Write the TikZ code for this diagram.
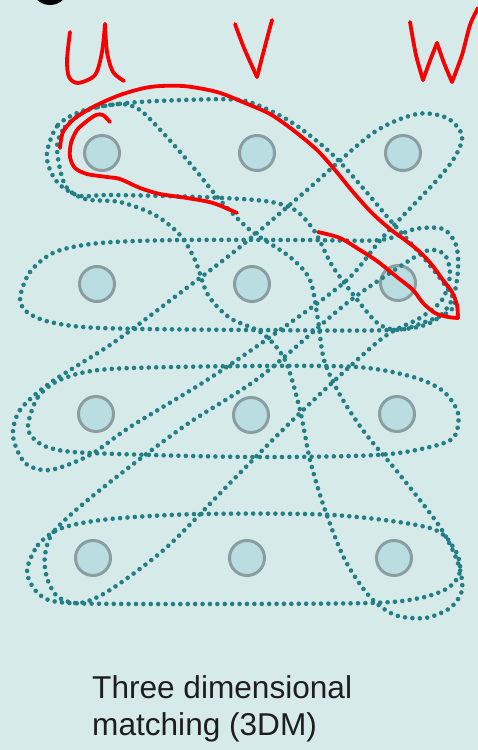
\documentclass[tikz,border=0pt]{standalone}
\usepackage{fontspec}
\setmainfont{Liberation Sans}
\definecolor{bgc}{HTML}{D6EAEA}
\definecolor{dotc}{HTML}{237E85}
\definecolor{nodefill}{HTML}{B9DDE1}
\definecolor{nodeline}{HTML}{8A9EA2}
\definecolor{ink}{HTML}{F80000}
\definecolor{txt}{HTML}{1E1E1E}
\begin{document}
\begin{tikzpicture}[x=1pt,y=-1pt,
  vert/.style={circle,minimum size=35pt,inner sep=0pt,fill=nodefill,draw=nodeline,line width=3pt},
  hedge/.style={draw=dotc,line width=4.6pt,line cap=round,dash pattern=on 0pt off 7.4pt},
  pen/.style={draw=ink,line width=3.8pt,line cap=round,line join=round},
  lbl/.style={font=\fontsize{31.6}{37}\selectfont,text=txt,inner sep=0pt,anchor=base west}]
\useasboundingbox (0,0) rectangle (478,750);
\clip (0,0) rectangle (478,750);
\fill[bgc] (0,0) rectangle (478,750);
% partial black bullet at top-left
\fill[black] (50,-14) circle (19);

% vertices
\node[vert] (u1) at (102,153) {};
\node[vert] (v1) at (257,153) {};
\node[vert] (w1) at (403,153) {};
\node[vert] (u2) at (97,284) {};
\node[vert] (v2) at (252,284) {};
\node[vert] (w2) at (398,283) {};
\node[vert] (u3) at (96,414) {};
\node[vert] (v3) at (251,415) {};
\node[vert] (w3) at (397,414) {};
\node[vert] (u4) at (93,558) {};
\node[vert] (v4) at (247,558) {};
\node[vert] (w4) at (394,558) {};

% triples (dotted loops)
% row 2
\draw[hedge] plot[smooth cycle] coordinates {(20,298) (30,272) (55,252) (100,243) (180,240) (300,240) (380,240) (415,229) (443,229) (456,245) (458,270) (452,300) (432,322) (390,330) (250,330) (100,328) (50,322) (27,312)};
% row 3
\draw[hedge] plot[smooth cycle] coordinates {(28,425) (38,397) (62,379) (110,369) (250,366) (357,367) (413,377) (443,391) (458,413) (454,437) (430,447) (377,455) (250,457) (90,453) (50,448) (33,438)};
% row 4
\draw[hedge] plot[smooth cycle] coordinates {(27,572) (38,545) (62,528) (110,519) (200,514) (333,515) (430,528) (455,550) (460,572) (448,588) (420,598) (370,603) (200,604) (70,603) (40,595)};
% U3 V2 W1
\draw[hedge] plot[smooth cycle] coordinates {(13,436) (20,410) (50,383) (113,343) (180,293) (240,247) (307,190) (373,133) (417,114) (447,118) (462,135) (456,155) (437,180) (383,237) (347,280) (280,330) (207,380) (130,427) (90,455) (50,470) (25,463)};
% U1 V1 W2
\draw[hedge] plot[smooth cycle] coordinates {(47,152) (58,125) (85,110) (127,103) (183,100) (240,100) (273,112) (300,128) (333,155) (363,188) (390,220) (423,257) (445,285) (455,303) (447,313) (425,322) (400,330) (380,325) (363,307) (333,267) (315,232) (295,210) (265,201) (200,197) (110,195) (80,196) (60,185) (50,170)};
% U1 V2 W4
\draw[hedge] plot[smooth cycle] coordinates {(57,148) (65,127) (88,110) (120,104) (140,110) (165,135) (193,167) (220,200) (250,230) (290,257) (310,280) (318,320) (324,360) (340,395) (365,433) (400,475) (440,527) (458,563) (462,590) (450,608) (425,618) (395,615) (370,597) (345,560) (325,510) (310,460) (300,410) (285,360) (262,333) (230,318) (208,295) (195,260) (180,235) (155,215) (120,202) (85,199) (65,185)};
% U4 V3 W2
\draw[hedge] plot[smooth cycle] coordinates {(45,555) (55,530) (100,490) (183,427) (260,377) (347,303) (410,260) (430,250) (445,255) (450,275) (442,300) (420,318) (380,340) (300,413) (233,480) (167,547) (110,590) (80,603) (58,597) (47,578)};

% handwritten red annotations
\draw[pen] plot[smooth] coordinates {(70,32) (67,60) (69,77) (78,83) (95,75) (102,52) (105,24)};
\draw[pen] plot[smooth] coordinates {(105,24) (107,52) (113,72) (124,81)};
\draw[pen] plot[smooth] coordinates {(235,24) (244,48) (257,77)};
\draw[pen] plot[smooth] coordinates {(257,77) (264,50) (272,20)};
\draw[pen] plot[smooth] coordinates {(410,22) (416,55) (423,80)};
\draw[pen] plot[smooth] coordinates {(423,80) (431,58) (437,43)};
\draw[pen] plot[smooth] coordinates {(437,43) (444,63) (452,82)};
\draw[pen] plot[smooth] coordinates {(452,82) (462,55) (470,25) (478,8)};
% loop highlighting the chosen triple
\draw[pen] plot[smooth] coordinates {(318,232) (340,238) (360,250) (377,261) (397,277) (413,290) (423,303) (435,313) (448,317) (458,318)};
\draw[pen] plot[smooth] coordinates {(458,318) (457,305) (452,292) (443,280) (432,265) (420,252) (405,240) (390,229) (372,213) (353,192) (335,170) (317,150) (293,130) (270,114) (245,103) (217,92) (183,86) (150,87) (120,95) (93,107) (74,119) (63,132) (60,148)};
\draw[pen] plot[smooth] coordinates {(110,122) (103,115) (96,115) (87,121) (77,130) (71,143) (70,157) (75,168) (87,174) (107,177) (120,179) (140,188) (160,194) (187,198) (213,203) (237,213)};

% caption
\node[lbl] (cap1) at (92,698) {Three dimensional};
\node[lbl] (cap2) at (92,735) {matching (3DM)};
\end{tikzpicture}
\end{document}
